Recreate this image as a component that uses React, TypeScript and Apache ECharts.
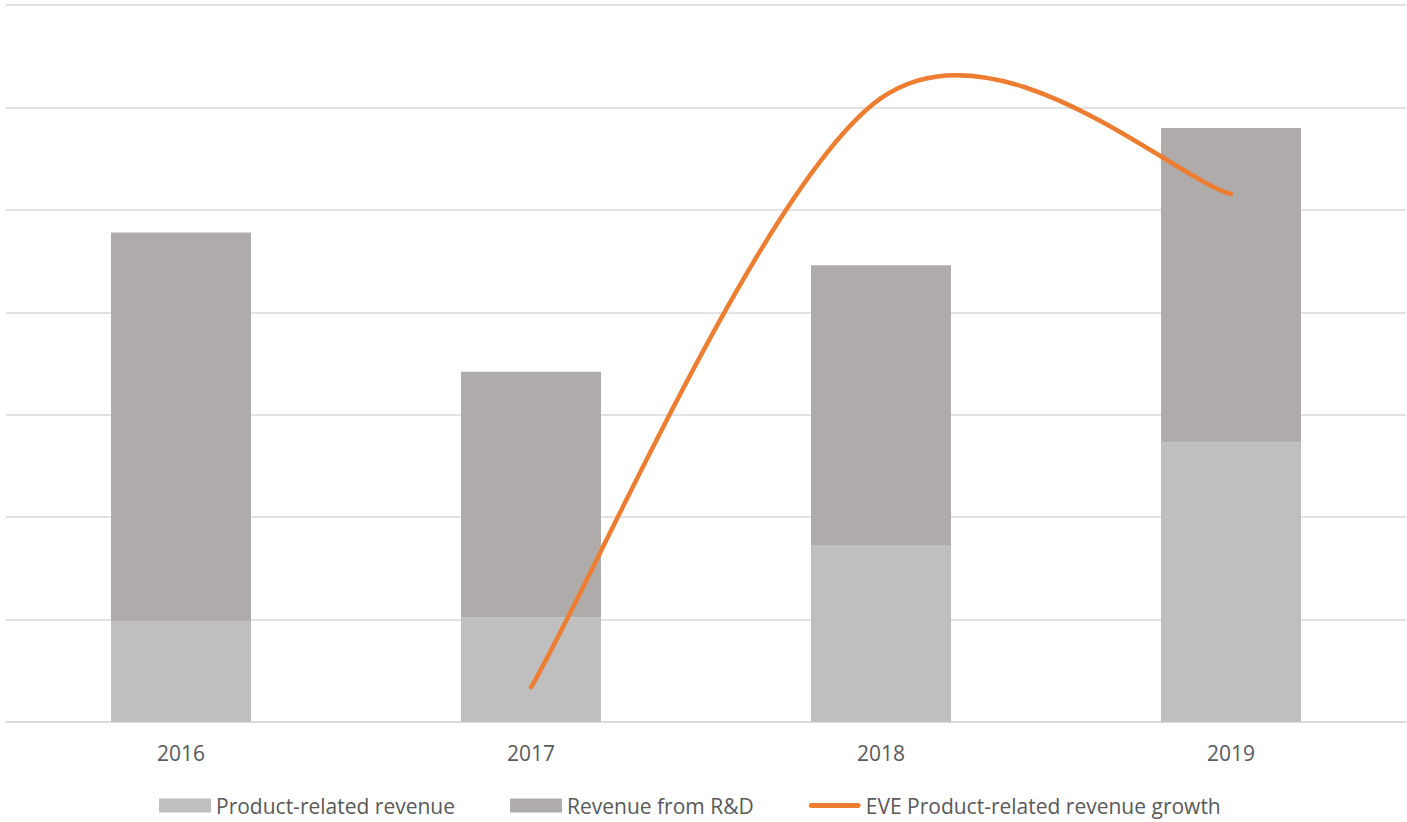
import React, { useEffect, useRef } from "react";
import * as echarts from "echarts";

const categories = ["2016", "2017", "2018", "2019"];
const productRevenue = [0.98, 1.02, 1.72, 2.73];
const rdRevenue = [3.8, 2.4, 2.74, 3.07];
const eveGrowth: (number | null)[] = [null, 0.34, 6.09, 5.155];

const LINE_NAME = "EVE Product-related revenue growth";

export default function App() {
  const ref = useRef<HTMLDivElement>(null);
  useEffect(() => {
    const chart = echarts.init(ref.current!, undefined, { renderer: "svg" });
    const font = "Open Sans";

    // Excel-like smoothed segment (cardinal spline, tension 1/6)
    const renderSegment = (params: any, api: any) => {
      const i = params.dataIndex;
      const v0 = eveGrowth[i];
      const v1 = eveGrowth[i + 1];
      if (v0 == null || v1 == null || i + 1 >= eveGrowth.length) return null;
      const p0 = api.coord([i, v0]);
      const p1 = api.coord([i + 1, v1]);
      const vPrev = i - 1 >= 0 ? eveGrowth[i - 1] : null;
      const vNext = i + 2 < eveGrowth.length ? eveGrowth[i + 2] : null;
      const pPrev = vPrev == null ? p0 : api.coord([i - 1, vPrev]);
      const pNext = vNext == null ? p1 : api.coord([i + 2, vNext]);
      return {
        type: "bezierCurve",
        shape: {
          x1: p0[0],
          y1: p0[1],
          x2: p1[0],
          y2: p1[1],
          cpx1: p0[0] + (p1[0] - pPrev[0]) / 6,
          cpy1: p0[1] + (p1[1] - pPrev[1]) / 6,
          cpx2: p1[0] - (pNext[0] - p0[0]) / 6,
          cpy2: p1[1] - (pNext[1] - p0[1]) / 6,
        },
        style: { stroke: "#ED7D31", lineWidth: 4.5, fill: "none", lineCap: "round" },
      };
    };

    chart.setOption({
      animation: false,
      grid: { left: 6, right: 1, top: 5, bottom: 100, containLabel: false },
      legend: {
        top: 790,
        left: 154,
        itemWidth: 52,
        itemHeight: 14,
        itemGap: 55,
        textStyle: { fontFamily: font, fontSize: 21, color: "#595959" },
        data: [
          { name: "Product-related revenue", icon: "rect" },
          { name: "Revenue from R&D", icon: "rect" },
          {
            name: LINE_NAME,
            icon: "path://M2.5,0 L51.5,0 A2.5,2.5 0 0 1 51.5,5 L2.5,5 A2.5,2.5 0 0 1 2.5,0 Z",
          },
        ],
      },
      xAxis: {
        type: "category",
        data: categories,
        axisLine: { lineStyle: { color: "#D9D9D9", width: 1.5 } },
        axisTick: { show: false },
        axisLabel: { fontFamily: font, fontSize: 21, color: "#595959", margin: 20 },
      },
      yAxis: {
        type: "value",
        min: 0,
        max: 7,
        interval: 1,
        axisLabel: { show: false },
        axisLine: { show: false },
        axisTick: { show: false },
        splitLine: { lineStyle: { color: "#D9D9D9", width: 1.5 } },
      },
      series: [
        {
          name: "Product-related revenue",
          type: "bar",
          stack: "rev",
          barWidth: "40%",
          data: productRevenue,
          itemStyle: { color: "#BFBFBF" },
        },
        {
          name: "Revenue from R&D",
          type: "bar",
          stack: "rev",
          barWidth: "40%",
          data: rdRevenue,
          itemStyle: { color: "#AFABAB" },
        },
        {
          name: LINE_NAME,
          type: "custom",
          z: 5,
          coordinateSystem: "cartesian2d",
          encode: { x: 0, y: 1 },
          itemStyle: { color: "#ED7D31" },
          data: eveGrowth.map((v, i) => [i, v == null ? "-" : v]),
          renderItem: renderSegment,
        },
      ],
    });
    return () => chart.dispose();
  }, []);
  return <div ref={ref} style={{ width: 1407, height: 822, position: "absolute", left: 0, top: 0 }} />;
}
